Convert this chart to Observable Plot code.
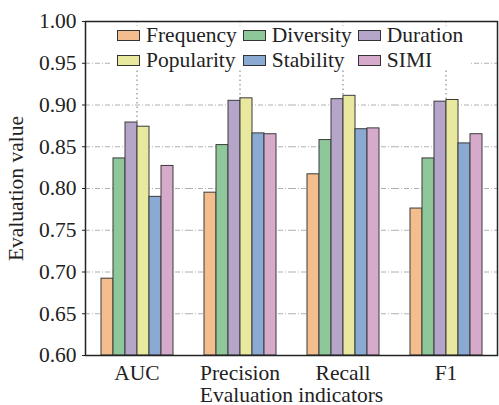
<!DOCTYPE html>
<html>
<head>
<meta charset="utf-8">
<script src="https://cdn.jsdelivr.net/npm/d3@7"></script>
<script src="https://cdn.jsdelivr.net/npm/@observablehq/plot@0.6"></script>
<style>
  html, body { margin: 0; padding: 0; background: white; }
  #wrap { position: relative; width: 499px; height: 405px; }
  #legend {
    position: absolute; left: 112px; top: 26px; background: white;
    display: grid; grid-template-columns: auto auto auto; column-gap: 6px; row-gap: 7px;
    padding: 0 8px 0 5px;
    font-family: 'Liberation Serif', 'Times New Roman', serif; font-size: 21.5px; color: #222;
  }
  .item { display: flex; align-items: center; height: 18px; white-space: nowrap; }
  .sw { width: 21px; height: 9px; border: 1px solid #333; margin-right: 6px; box-sizing: content-box; }
</style>
</head>
<body>
<div id="wrap"></div>
<script>
const groups = ["AUC", "Precision", "Recall", "F1"];
const series = ["Frequency", "Diversity", "Duration", "Popularity", "Stability", "SIMI"];
const colors = ["#f3bd8d", "#8ec89a", "#b4a5c9", "#e8e89e", "#8aaad3", "#d6aacb"];
const yTicks = [0.60, 0.65, 0.70, 0.75, 0.80, 0.85, 0.90, 0.95, 1.00];

const frequency  = [0.692, 0.795, 0.817, 0.776];
const diversity  = [0.836, 0.852, 0.858, 0.836];
const duration   = [0.879, 0.905, 0.907, 0.904];
const popularity = [0.874, 0.908, 0.911, 0.906];
const stability  = [0.790, 0.866, 0.871, 0.854];
const simi       = [0.827, 0.865, 0.872, 0.865];

const seriesValues = [frequency, diversity, duration, popularity, stability, simi];
const table = [];
groups.forEach((g, gi) => {
  series.forEach((s, si) => table.push({group: g, series: s, value: seriesValues[si][gi]}));
});

const font = "'Liberation Serif', 'Times New Roman', serif";

const chart = Plot.plot({
  width: 499, height: 405,
  marginLeft: 83, marginRight: 1, marginTop: 21, marginBottom: 50,
  style: {fontFamily: font, fontSize: "21.5px", color: "#222", background: "white", overflow: "visible"},
  fx: {domain: groups, paddingInner: 0, paddingOuter: 0, label: null},
  x: {domain: series, paddingInner: 0, paddingOuter: 1.25, axis: null},
  y: {domain: [0.6, 1.0], axis: null},
  color: {domain: series, range: colors},
  marks: [
    Plot.gridY({ticks: yTicks.slice(1, -1), stroke: "#b0b0b0", strokeOpacity: 1, strokeWidth: 1, strokeDasharray: "5,2,1,2"}),
    Plot.gridFx({stroke: "#777", strokeOpacity: 1, strokeWidth: 1, strokeDasharray: "1.5,3"}),
    Plot.barY(table, {fx: "group", x: "series", y1: 0.6, y2: "value", fill: "series", stroke: "#3a3a3a", strokeWidth: 1}),
    Plot.axisY({ticks: yTicks, tickFormat: ".2f", tickSize: 3, tickPadding: 6, label: "Evaluation value", labelAnchor: "center", labelOffset: 78, labelArrow: "none"}),
    Plot.axisFx({anchor: "bottom", tickSize: 0, tickPadding: 9, label: "Evaluation indicators", labelAnchor: "center", labelOffset: 46, labelArrow: "none"}),
    Plot.frame({facet: "super", stroke: "#222", strokeWidth: 1.5})
  ]
});

const wrap = document.getElementById("wrap");
wrap.appendChild(chart);

const legend = document.createElement("div");
legend.id = "legend";
series.forEach((s, i) => {
  const item = document.createElement("div");
  item.className = "item";
  const sw = document.createElement("span");
  sw.className = "sw";
  sw.style.background = colors[i];
  const t = document.createElement("span");
  t.textContent = s;
  item.appendChild(sw);
  item.appendChild(t);
  legend.appendChild(item);
});
wrap.appendChild(legend);
</script>
</body>
</html>
